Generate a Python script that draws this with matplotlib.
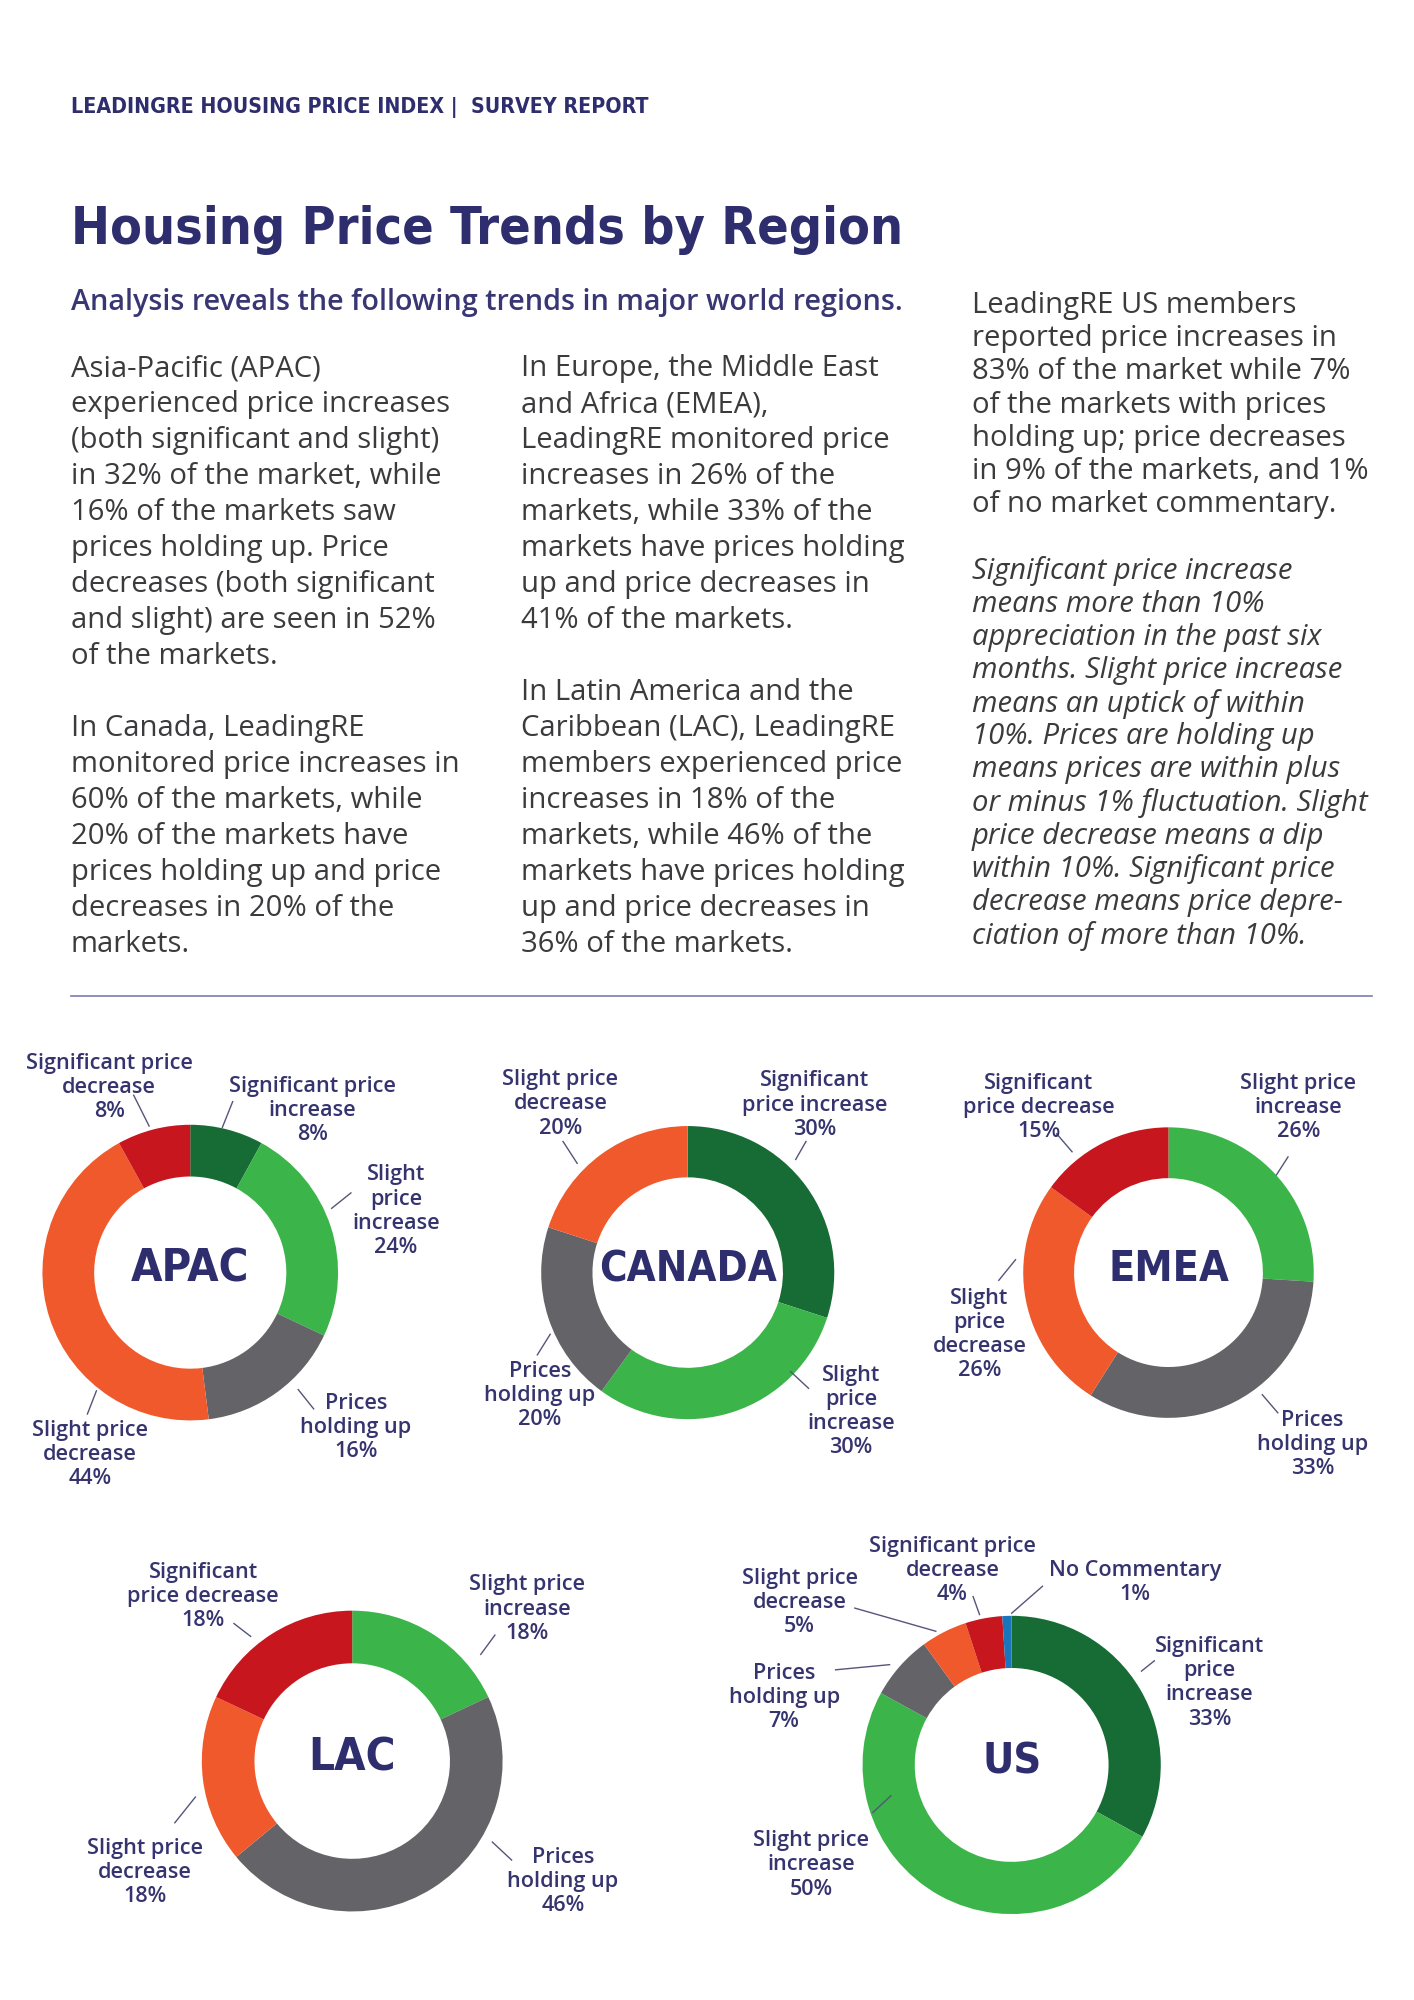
import matplotlib.pyplot as plt

# -------------------------------
# Data
# -------------------------------

categories = ['Significant price increase', 'Slight price increase',
              'Prices holding up', 'Slight price decrease',
              'Significant price decrease', 'No Commentary']
colors = ['#176b35', '#3bb44a', '#646367', '#f0592b', '#c8161e', '#1b75bc']

regions = ['APAC', 'CANADA', 'EMEA', 'LAC', 'US']
apac = [8, 24, 16, 44, 8, 0]
canada = [30, 30, 20, 20, 0, 0]
emea = [0, 26, 33, 26, 15, 0]
lac = [0, 18, 46, 18, 18, 0]
us = [33, 50, 7, 5, 4, 1]
shares = [apac, canada, emea, lac, us]

header = 'LEADINGRE HOUSING PRICE INDEX |  SURVEY REPORT'
title = 'Housing Price Trends by Region'
subtitle = 'Analysis reveals the following trends in major world regions.'

col1 = ['Asia-Pacific (APAC)', 'experienced price increases',
        '(both significant and slight)', 'in 32% of the market, while',
        '16% of the markets saw', 'prices holding up. Price',
        'decreases (both significant', 'and slight) are seen in 52%',
        'of the markets.', '',
        'In Canada, LeadingRE', 'monitored price increases in',
        '60% of the markets, while', '20% of the markets have',
        'prices holding up and price', 'decreases in 20% of the', 'markets.']
col2 = ['In Europe, the Middle East', 'and Africa (EMEA),',
        'LeadingRE monitored price', 'increases in 26% of the',
        'markets, while 33% of the', 'markets have prices holding',
        'up and price decreases in', '41% of the markets.', '',
        'In Latin America and the', 'Caribbean (LAC), LeadingRE',
        'members experienced price', 'increases in 18% of the',
        'markets, while 46% of the', 'markets have prices holding',
        'up and price decreases in', '36% of the markets.']
col3 = ['LeadingRE US members', 'reported price increases in',
        '83% of the market while 7%', 'of the markets with prices',
        'holding up; price decreases', 'in 9% of the markets, and 1%',
        'of no market commentary.']
col3_italic = ['Significant price increase', 'means more than 10%',
               'appreciation in the past six', 'months. Slight price increase',
               'means an uptick of within', '10%. Prices are holding up',
               'means prices are within plus', 'or minus 1% fluctuation. Slight',
               'price decrease means a dip', 'within 10%. Significant price',
               'decrease means price depre-', 'ciation of more than 10%.']

# -------------------------------
# Layout (page units, 1100 wide)
# -------------------------------

W = 1100
H = W * 2000 / 1414
K = 1414 / W

NAVY = '#2e2d6e'
LABEL = '#35346f'
BODY = '#3b3b3d'
COND = ['DejaVu Sans']
SANS = ['Open Sans', 'DejaVu Sans']

# center x, center y, outer radius, width of the name in the hole
donuts = [(148, 990, 115, 92), (535, 990, 114, 138), (909, 990, 113, 94),
          (274, 1370, 117, 68), (787, 1373, 116, 46)]

# (category, name lines, x, first line y, leader x0, y0, x1, y1)
labels = [
    [(4, ['Significant price', 'decrease'], 85, 825, 104, 852, 116, 876),
     (0, ['Significant price', 'increase'], 243, 843, 181, 857, 173, 877),
     (1, ['Slight', 'price', 'increase'], 308, 912, 273, 928, 258, 940),
     (2, ['Prices', 'holding up'], 277, 1090, 232, 1081, 244, 1096),
     (3, ['Slight price', 'decrease'], 70, 1111, 75, 1082, 68, 1100)],
    [(3, ['Slight price', 'decrease'], 436, 838, 438, 888, 449, 905),
     (0, ['Significant', 'price increase'], 634, 839, 627, 888, 619, 902),
     (2, ['Prices', 'holding up'], 420, 1065, 428, 1038, 418, 1054),
     (1, ['Slight', 'price', 'increase'], 662, 1068, 615, 1067, 629, 1080)],
    [(4, ['Significant', 'price decrease'], 808, 841, 822, 882, 834, 896),
     (1, ['Slight price', 'increase'], 1010, 841, 1002, 900, 993, 914),
     (3, ['Slight', 'price', 'decrease'], 762, 1008, 790, 980, 777, 996),
     (2, ['Prices', 'holding up'], 1021, 1103, 982, 1085, 994, 1099)],
    [(4, ['Significant', 'price decrease'], 158, 1221, 182, 1263, 195, 1273),
     (1, ['Slight price', 'increase'], 410, 1231, 385, 1272, 374, 1287),
     (3, ['Slight price', 'decrease'], 113, 1436, 152, 1398, 136, 1418),
     (2, ['Prices', 'holding up'], 438, 1443, 383, 1433, 398, 1447)],
    [(4, ['Significant price', 'decrease'], 741, 1201, 757, 1242, 762, 1256),
     (5, ['No Commentary'], 883, 1220, 811, 1234, 787, 1255),
     (3, ['Slight price', 'decrease'], 622, 1226, 665, 1251, 728, 1269),
     (2, ['Prices', 'holding up'], 610, 1300, 650, 1299, 692, 1295),
     (0, ['Significant', 'price', 'increase'], 941, 1279, 898, 1292, 888, 1300),
     (1, ['Slight price', 'increase'], 631, 1430, 679, 1410, 693, 1397)],
]

fig = plt.figure(figsize=(14.14, 20), dpi=100)
ax = fig.add_axes([0, 0, 1, 1])
renderer = fig.canvas.get_renderer()


def fit(texts, ref, width):
    # scale font size of texts so that ref spans width page units
    w = ref.get_window_extent(renderer=renderer).width
    for t in texts:
        t.set_fontsize(t.get_fontsize() * width * K / w)


# donuts
for (cx, cy, r, nw), name, vals in zip(donuts, regions, shares):
    v = [x for x in vals if x > 0]
    c = [col for x, col in zip(vals, colors) if x > 0]
    ax.pie(v, colors=c, center=(cx, cy), radius=r, startangle=-90,
           counterclock=True, wedgeprops=dict(width=r * 0.35, linewidth=0))
    t = ax.text(cx, cy - 6, name, ha='center', va='center_baseline',
                family=COND, stretch='condensed', weight='bold',
                fontsize=30, color=NAVY)
    fit([t], t, nw)

# slice labels
lab_texts = []
for lays, vals in zip(labels, shares):
    for idx, lines, x, y, x0, y0, x1, y1 in lays:
        for i, s in enumerate(lines + [f'{vals[idx]}%']):
            lab_texts.append(ax.text(x, y + i * 18.8, s, ha='center',
                                     va='center_baseline', family=SANS,
                                     weight='semibold', fontsize=12,
                                     color=LABEL))
        ax.plot([x0, x1], [y0, y1], color='#55557a', lw=1)
fit(lab_texts, lab_texts[0], 130)

# header and title
t = ax.text(55, 88, header, family=COND, stretch='condensed', weight='bold',
            fontsize=16, color=NAVY, va='baseline')
fit([t], t, 450)
t = ax.text(55, 190, title, family=COND, stretch='condensed', weight='bold',
            fontsize=40, color=NAVY, va='baseline')
fit([t], t, 648)
t = ax.text(55, 241, subtitle, family=SANS, weight='semibold', fontsize=16,
            color='#383673', va='baseline')
fit([t], t, 650)

# body columns
body = []
for x, y0, step, lines, style in [(55, 284, 28, col1, 'normal'),
                                  (405, 284, 28, col2, 'normal'),
                                  (756, 235, 25.8, col3, 'normal'),
                                  (756, 235 + 8 * 25.8, 25.8, col3_italic, 'italic')]:
    for i, s in enumerate(lines):
        if s:
            body.append(ax.text(x, y0 + i * step, s, family=SANS, style=style,
                                fontsize=16, color=BODY, va='center_baseline'))
ref = [t for t in body if t.get_text() == 'markets have prices holding'][0]
fit(body, ref, 299)

# divider
ax.plot([55, 1067], [775, 775], color='#7b7bb0', lw=1.2)

ax.set_xlim(0, W)
ax.set_ylim(H, 0)
ax.set_aspect('auto')
ax.axis('off')

fig.savefig('out.png', dpi=100, facecolor='white')
